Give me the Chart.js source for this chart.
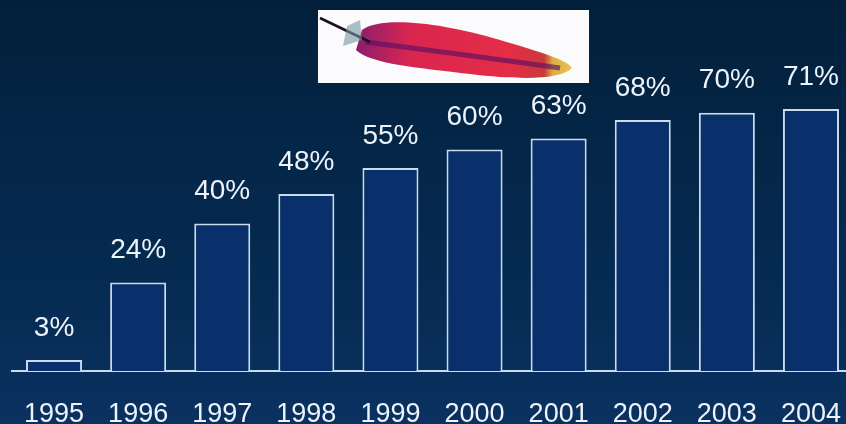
<!DOCTYPE html>
<html>
<head>
<meta charset="utf-8">
<script src="https://cdn.jsdelivr.net/npm/chart.js@4.4.1/dist/chart.umd.min.js"></script>
<style>
  html, body { margin: 0; padding: 0; overflow: hidden; background: #04244a; }
  #wrap { width: 846px; height: 424px; overflow: hidden; position: relative;
          background: linear-gradient(180deg, #02203b 0%, #052a50 60%, #0a3160 100%); }
  canvas { display: block; }
</style>
</head>
<body>
<div id="wrap"><canvas id="grafico" width="856" height="424"></canvas></div>
<script>
// Dados do gráfico
const anos = ['1995', '1996', '1997', '1998', '1999', '2000', '2001', '2002', '2003', '2004'];
const percentuais = [3, 24, 40, 48, 55, 60, 63, 68, 70, 71];

const corTexto = '#eef4fb';
const corBorda = '#c9dcef';

// rótulos de percentual acima das barras
const rotulosPlugin = {
    id: 'rotulos',
    afterDatasetsDraw(chart) {
        const ctx = chart.ctx;
        const meta = chart.getDatasetMeta(0);
        ctx.save();
        ctx.fillStyle = corTexto;
        ctx.font = '28px "Liberation Sans", Arial, sans-serif';
        ctx.textAlign = 'center';
        ctx.textBaseline = 'middle';
        meta.data.forEach((bar, i) => {
            ctx.fillText(percentuais[i] + '%', bar.x, bar.y - 32);
        });
        ctx.restore();
    }
};

// logo (pena) no topo
const logoPlugin = {
    id: 'logo',
    afterDraw(chart) {
        const ctx = chart.ctx;
        ctx.save();
        ctx.fillStyle = '#fbfbfd';
        ctx.fillRect(318, 10, 271, 73);

        // corpo da pena
        const g = ctx.createLinearGradient(355, 0, 575, 0);
        g.addColorStop(0, '#8a1d6e');
        g.addColorStop(0.25, '#d9264f');
        g.addColorStop(0.7, '#e52d47');
        g.addColorStop(0.86, '#c93a3a');
        g.addColorStop(0.9, '#e0b040');
        g.addColorStop(1, '#e8c45a');
        ctx.fillStyle = g;
        ctx.beginPath();
        ctx.moveTo(362, 30);
        ctx.bezierCurveTo(380, 16, 440, 22, 500, 40);
        ctx.bezierCurveTo(540, 52, 568, 60, 572, 68);
        ctx.bezierCurveTo(560, 80, 520, 80, 470, 74);
        ctx.bezierCurveTo(420, 68, 370, 64, 356, 50);
        ctx.closePath();
        ctx.fill();

        // sombra roxa central
        ctx.strokeStyle = 'rgba(90,15,100,0.65)';
        ctx.lineWidth = 5;
        ctx.beginPath();
        ctx.moveTo(365, 42);
        ctx.quadraticCurveTo(460, 54, 560, 68);
        ctx.stroke();

        // haste
        ctx.strokeStyle = '#1a1020';
        ctx.lineWidth = 2.5;
        ctx.beginPath();
        ctx.moveTo(320, 18);
        ctx.quadraticCurveTo(345, 30, 370, 42);
        ctx.stroke();
        ctx.fillStyle = 'rgba(120,150,160,0.6)';
        ctx.beginPath();
        ctx.moveTo(347, 26);
        ctx.lineTo(360, 20);
        ctx.lineTo(362, 40);
        ctx.lineTo(343, 46);
        ctx.closePath();
        ctx.fill();
        ctx.restore();
    }
};

new Chart(document.getElementById('grafico'), {
    type: 'bar',
    data: {
        labels: anos,
        datasets: [{
            data: percentuais,
            backgroundColor: '#09306b',
            borderColor: corBorda,
            borderWidth: 2,
            borderSkipped: 'bottom',
            barPercentage: 0.666,
            categoryPercentage: 1
        }]
    },
    options: {
        responsive: false,
        animation: false,
        layout: { padding: { top: 2, left: 12, right: 3, bottom: 0 } },
        plugins: {
            legend: { display: false },
            tooltip: { enabled: false }
        },
        scales: {
            y: { display: false, min: 0, max: 100 },
            x: {
                grid: { display: false, drawTicks: false },
                border: { display: true, color: corBorda, width: 2 },
                ticks: {
                    color: corTexto,
                    padding: 27,
                    font: { family: '"Liberation Sans", Arial, sans-serif', size: 27 }
                },
                afterFit(scale) {
                    scale.height = 53;
                    scale.paddingLeft = 0;
                    scale.paddingRight = 0;
                }
            }
        }
    },
    plugins: [rotulosPlugin, logoPlugin]
});
</script>
</body>
</html>
